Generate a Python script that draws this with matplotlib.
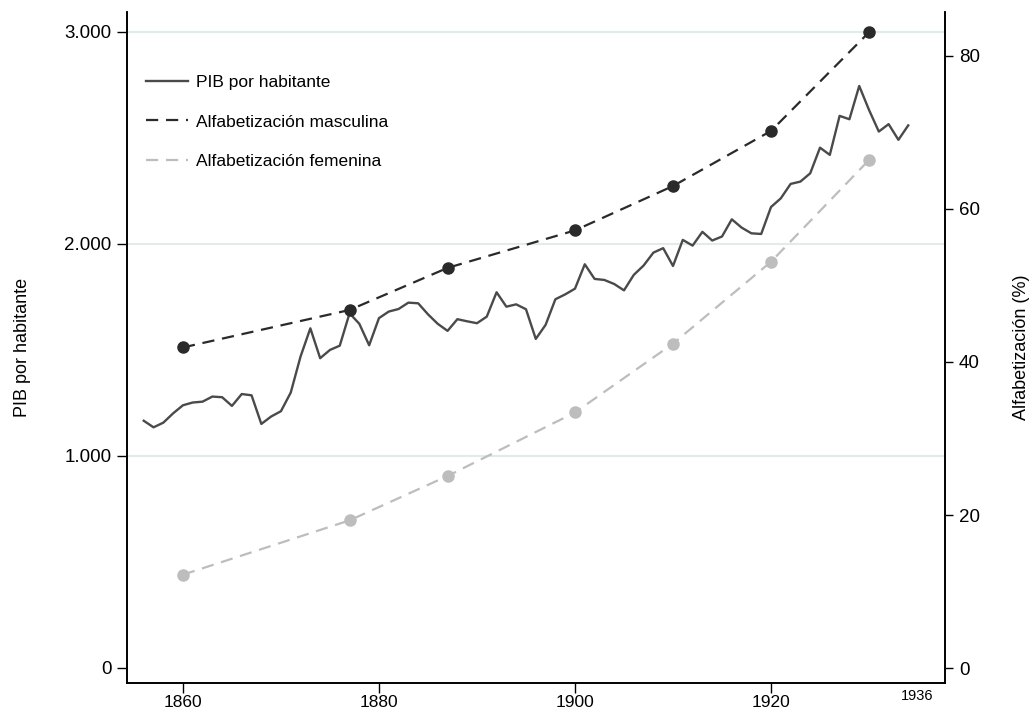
import matplotlib
matplotlib.use("Agg")
import matplotlib.pyplot as plt
from matplotlib.ticker import FuncFormatter

plt.rcParams['font.family'] = ['Liberation Sans', 'DejaVu Sans']

# GDP per capita (left axis)
gdp_years = list(range(1856, 1935))
gdp_values = [
    1166, 1135, 1157, 1201, 1239, 1252, 1256, 1280, 1277, 1236,   # 1856-1865
    1292, 1286, 1151, 1186, 1211, 1299, 1469, 1602, 1461, 1500,   # 1866-1875
    1520, 1673, 1623, 1522, 1650, 1681, 1693, 1723, 1720, 1668,   # 1876-1885
    1623, 1590, 1645, 1635, 1626, 1657, 1772, 1704, 1715, 1692,   # 1886-1895
    1552, 1618, 1739, 1762, 1789, 1904, 1835, 1830, 1811, 1781,   # 1896-1905
    1854, 1898, 1959, 1980, 1896, 2019, 1992, 2057, 2016, 2035,   # 1906-1915
    2116, 2077, 2050, 2047, 2174, 2215, 2283, 2294, 2333, 2454,   # 1916-1925
    2420, 2604, 2588, 2745, 2632, 2530, 2565, 2491, 2559,         # 1926-1934
]

# Literacy (right axis)
lit_years = [1860, 1877, 1887, 1900, 1910, 1920, 1930]
lit_male = [41.9, 46.8, 52.3, 57.2, 63.0, 70.2, 83.1]
lit_female = [12.2, 19.3, 25.1, 33.4, 42.4, 53.1, 66.4]

x_ticks = [1860, 1880, 1900, 1920]
x_end_label = 1936
y_left_ticks = [0, 1000, 2000, 3000]
y_right_ticks = [0, 20, 40, 60, 80]

fig = plt.figure(figsize=(10.34, 7.17), dpi=100)
ax = fig.add_axes([0.1228, 0.0474, 0.7912, 0.9359])
ax2 = ax.twinx()

grid_color = '#e1ebeb'
for v in y_left_ticks[1:]:
    ax.axhline(v, color=grid_color, lw=1.5, zorder=0)

l1, = ax.plot(gdp_years, gdp_values, color='#4a4a4a', lw=1.7, zorder=3,
              label='PIB por habitante')
l2, = ax2.plot(lit_years, lit_male, color='#2a2a2a', lw=1.6, dashes=(5.5, 3.5),
               zorder=3, label='Alfabetización masculina')
ax2.plot(lit_years, lit_male, ls='none', marker='o', ms=8, color='#2a2a2a', zorder=4)
l3, = ax2.plot(lit_years, lit_female, color='#bdbdbd', lw=1.6, dashes=(5.5, 3.5),
               zorder=3, label='Alfabetización femenina')
ax2.plot(lit_years, lit_female, ls='none', marker='o', ms=8, color='#bdbdbd', zorder=4)

ax.set_xlim(1854.29, 1937.76)
ax.set_ylim(-71, 3094)
ax2.set_ylim(-1.96, 85.75)

ax.set_xticks(x_ticks)
ax.set_xticklabels([str(t) for t in x_ticks])
ax.tick_params(axis='x', which='major', length=7, width=1, labelsize=12.5, pad=1.5)
ax.annotate(str(x_end_label), xy=(x_end_label, 0), xycoords=('data', 'axes fraction'),
            xytext=(-8, -4), textcoords='offset points', ha='center', va='top',
            fontsize=10.5)

ax.set_yticks(y_left_ticks)
ax.yaxis.set_major_formatter(FuncFormatter(lambda v, p: f"{int(v):,}".replace(',', '.')))
ax.tick_params(axis='y', length=7, width=1, labelsize=13.5, pad=4)
ax2.set_yticks(y_right_ticks)
ax2.tick_params(axis='y', length=6, width=1, labelsize=13.5, pad=4)

for a in (ax, ax2):
    a.spines['top'].set_visible(False)
    for s in ('left', 'right', 'bottom'):
        a.spines[s].set_linewidth(1.2)

ax.set_ylabel('PIB por habitante', fontsize=13, labelpad=24)
ax2.set_ylabel('Alfabetización (%)', fontsize=13, labelpad=24)

ax2.legend(handles=[l1, l2, l3], loc='upper left', bbox_to_anchor=(0.004, 0.929),
           frameon=False, fontsize=12.5, handlelength=2.4, handletextpad=0.5,
           labelspacing=1.38)

fig.savefig('out.png', dpi=100)
